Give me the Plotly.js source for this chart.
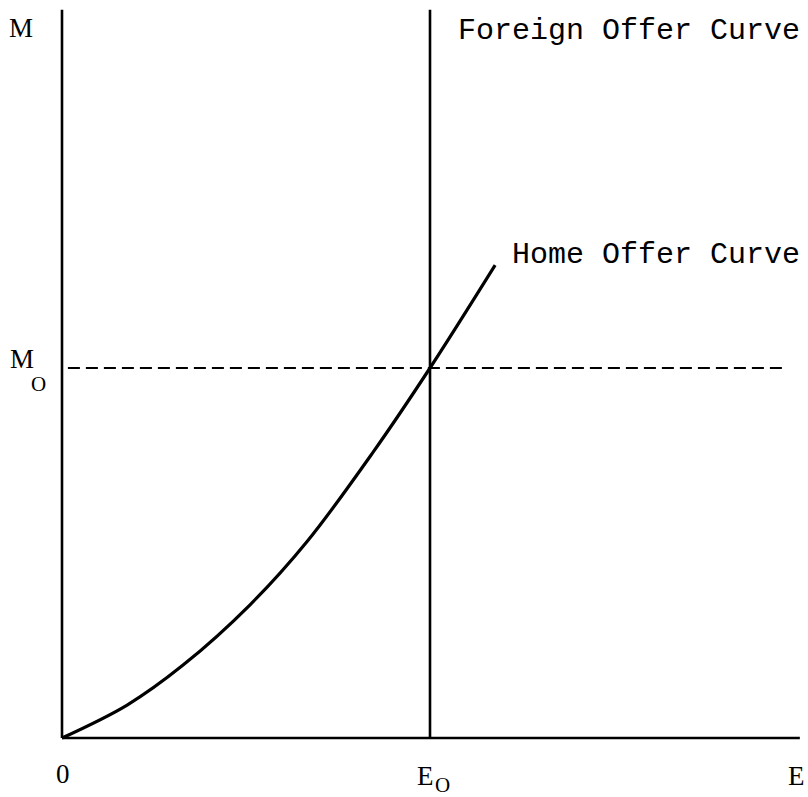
<!DOCTYPE html>
<html>
<head>
<meta charset="utf-8">
<script src="https://cdn.plot.ly/plotly-3.0.1.min.js"></script>
<style>
  body { margin: 0; background: #fff; }
  #chart { width: 808px; height: 797px; }
</style>
</head>
<body>
<div id="chart"></div>
<script>
  // axis units: E_O = 1 on the horizontal axis, M_O = 1 on the vertical axis
  var E0 = 1.0;
  var M0 = 1.0;

  // home offer curve
  var homeE = [0, 0.177, 0.329, 0.511, 0.666, 0.845, 1.0, 1.177];
  var homeM = [0, 0.089, 0.197, 0.360, 0.531, 0.772, 1.0, 1.278];

  // axes and the foreign offer curve
  var axisTopM = 1.968;
  var axisEndE = 2.005;
  var dashE = [0.016, 1.965];

  var black = "#000";

  var traces = [
    { x: [0, 0], y: [0, axisTopM], mode: "lines", line: { color: black, width: 2.6 } },
    { x: [0, axisEndE], y: [0, 0], mode: "lines", line: { color: black, width: 2.6 } },
    { x: [E0, E0], y: [0, axisTopM], mode: "lines", line: { color: black, width: 2.6 } },
    { x: dashE, y: [M0, M0], mode: "lines", line: { color: black, width: 2, dash: "12px,6px" } },
    { x: homeE, y: homeM, mode: "lines", line: { color: black, width: 3.2, shape: "spline", smoothing: 1 } }
  ];
  traces.forEach(function (t) { t.type = "scatter"; t.hoverinfo = "skip"; t.showlegend = false; });

  var W = 808, H = 797;
  var margin = { l: 56, r: 6, t: 8, b: 53 };
  var plotW = W - margin.l - margin.r;
  var plotH = H - margin.t - margin.b;

  var serif = { family: "Liberation Serif, serif", size: 27, color: black };
  var sub = { family: "Liberation Serif, serif", size: 21, color: black };
  var mono = { family: "Liberation Mono, monospace", size: 30, color: black };

  // labels sit outside the axis range, so they are placed on the paper
  function label(px, py, text, font, anchor) {
    return { x: (px - margin.l) / plotW, y: (H - margin.b - py) / plotH,
             xref: "paper", yref: "paper", text: text, showarrow: false,
             font: font, xanchor: anchor || "center", yanchor: "middle" };
  }

  var annotations = [
    label(21, 28, "M", serif),
    label(21.5, 359, "M", serif),
    label(38.5, 384, "O", sub),
    label(63, 774, "0", serif),
    label(425, 776, "E", serif),
    label(442, 785, "O", sub),
    label(796.5, 776, "E", serif),
    label(456, 31, "Foreign Offer Curve", mono, "left"),
    label(510, 255, "Home Offer Curve", mono, "left")
  ];

  var layout = {
    width: W,
    height: H,
    margin: margin,
    paper_bgcolor: "#fff",
    plot_bgcolor: "#fff",
    xaxis: { range: [-6 / 368, 740 / 368], showgrid: false, zeroline: false, showline: false,
             showticklabels: false, ticks: "", fixedrange: true },
    yaxis: { range: [-6 / 370, 730 / 370], showgrid: false, zeroline: false, showline: false,
             showticklabels: false, ticks: "", fixedrange: true },
    annotations: annotations
  };

  Plotly.newPlot("chart", traces, layout, { displayModeBar: false, staticPlot: true });
</script>
</body>
</html>
